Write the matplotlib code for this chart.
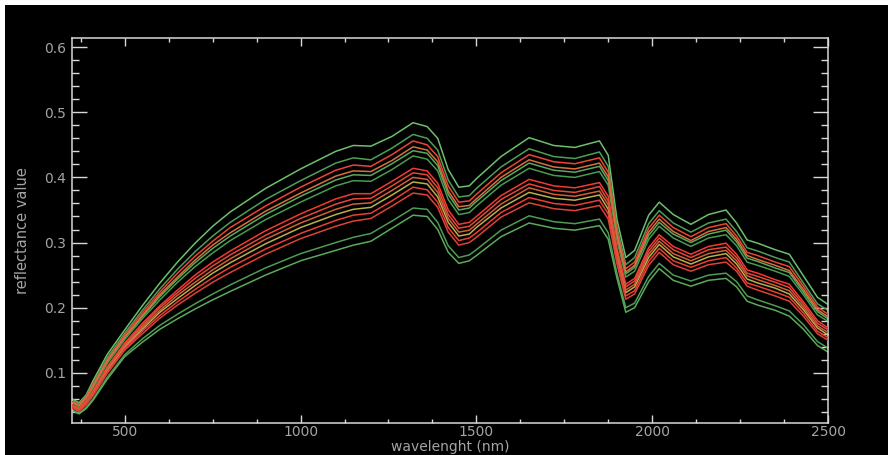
import matplotlib
matplotlib.use("Agg")
import matplotlib.pyplot as plt
from matplotlib.patches import Rectangle
from matplotlib.ticker import MultipleLocator, FormatStrFormatter

# wavelength grid (nm) shared by all spectra
wavelength = [350, 370, 390, 410, 450, 500, 550, 600, 650, 700, 750, 800, 900, 1000,
              1100, 1150, 1200, 1260, 1320, 1360, 1390, 1420, 1450, 1480,
              1500, 1570, 1650, 1720, 1780, 1850, 1875, 1900, 1925, 1950,
              1990, 2020, 2060, 2110, 2160, 2210, 2240, 2270, 2300, 2350,
              2390, 2430, 2470, 2500]

# reflectance spectra, top to bottom
s01 = [.060, .054, .066, .088, .128, .166, .203, .238, .270, .299, .325, .347, .383, .413, .440, .449, .448, .463, .484, .478, .460, .412, .385, .387, .398, .432, .461, .449, .446, .456, .434, .335, .277, .288, .342, .362, .343, .328, .343, .350, .330, .304, .299, .289, .282, .249, .216, .205]
s02 = [.058, .052, .065, .084, .123, .161, .196, .229, .259, .286, .310, .331, .366, .395, .422, .430, .427, .445, .466, .460, .442, .396, .370, .372, .383, .416, .444, .432, .429, .439, .417, .323, .266, .277, .329, .349, .330, .316, .330, .336, .317, .292, .287, .277, .270, .238, .206, .196]
s03 = [.056, .051, .063, .082, .120, .158, .192, .224, .253, .279, .302, .323, .356, .385, .411, .419, .417, .435, .456, .450, .432, .387, .362, .364, .374, .407, .435, .424, .421, .430, .408, .317, .260, .270, .322, .342, .323, .309, .323, .329, .310, .285, .280, .270, .263, .233, .201, .190]
s04 = [.055, .050, .062, .080, .118, .155, .188, .220, .247, .273, .296, .315, .348, .376, .402, .410, .409, .426, .447, .442, .424, .379, .355, .357, .367, .400, .427, .416, .413, .422, .401, .312, .255, .265, .316, .336, .317, .303, .317, .323, .305, .280, .274, .265, .257, .228, .197, .186]
s05 = [.055, .049, .061, .079, .117, .154, .186, .217, .244, .269, .291, .310, .343, .371, .396, .404, .403, .421, .441, .437, .418, .374, .350, .353, .363, .395, .422, .411, .408, .417, .395, .308, .252, .262, .311, .331, .313, .300, .313, .319, .301, .276, .271, .261, .254, .224, .194, .183]
s06 = [.054, .048, .060, .077, .114, .151, .183, .212, .239, .263, .284, .303, .335, .362, .387, .395, .394, .412, .433, .428, .410, .366, .343, .346, .356, .388, .414, .403, .400, .409, .388, .303, .247, .256, .305, .325, .307, .294, .307, .312, .295, .270, .265, .256, .248, .220, .189, .179]
s07 = [.051, .046, .057, .073, .109, .146, .176, .203, .227, .250, .270, .287, .318, .344, .367, .375, .375, .394, .414, .410, .391, .350, .328, .331, .340, .372, .397, .387, .384, .392, .371, .291, .236, .245, .292, .312, .294, .282, .294, .299, .282, .258, .253, .243, .236, .209, .180, .169]
s08 = [.050, .045, .056, .072, .108, .144, .173, .200, .223, .245, .264, .281, .311, .337, .359, .367, .368, .387, .407, .404, .384, .343, .322, .325, .334, .366, .390, .380, .377, .386, .364, .286, .232, .241, .287, .307, .289, .277, .289, .293, .277, .253, .248, .239, .231, .205, .176, .166]
s09 = [.049, .044, .054, .070, .106, .142, .170, .196, .219, .239, .258, .275, .305, .330, .351, .359, .361, .380, .400, .397, .377, .337, .316, .319, .328, .359, .384, .374, .371, .379, .358, .282, .227, .236, .282, .302, .283, .272, .283, .288, .272, .249, .243, .234, .226, .201, .172, .162]
s10 = [.049, .043, .053, .069, .104, .140, .167, .193, .214, .234, .253, .269, .298, .323, .343, .351, .354, .373, .393, .390, .370, .331, .310, .313, .323, .353, .377, .368, .365, .373, .351, .277, .223, .232, .277, .297, .278, .267, .278, .283, .267, .244, .238, .230, .221, .197, .169, .158]
s11 = [.047, .042, .052, .067, .101, .137, .164, .188, .209, .228, .246, .262, .290, .314, .334, .342, .345, .364, .385, .381, .362, .323, .303, .307, .315, .346, .369, .360, .357, .365, .344, .272, .218, .226, .271, .291, .272, .262, .272, .277, .261, .238, .233, .224, .216, .192, .164, .154]
s12 = [.046, .041, .051, .065, .099, .135, .160, .184, .204, .222, .239, .254, .282, .306, .325, .333, .337, .356, .376, .373, .354, .316, .296, .300, .308, .339, .361, .352, .349, .357, .336, .267, .213, .221, .265, .285, .266, .256, .266, .270, .256, .233, .227, .218, .210, .187, .160, .150]
s13 = [.043, .038, .047, .060, .093, .128, .152, .173, .190, .206, .221, .235, .261, .283, .300, .308, .314, .333, .353, .351, .331, .295, .277, .281, .289, .319, .341, .332, .329, .336, .315, .252, .200, .207, .248, .268, .250, .241, .250, .253, .240, .218, .212, .203, .195, .174, .148, .138]
s14 = [.042, .037, .045, .058, .090, .125, .147, .167, .183, .198, .212, .225, .250, .272, .288, .296, .302, .322, .342, .340, .320, .285, .268, .272, .280, .309, .330, .322, .319, .326, .305, .245, .193, .200, .240, .260, .242, .233, .242, .245, .232, .210, .204, .196, .187, .167, .142, .132]

spectra = [s01, s02, s03, s04, s05, s06, s07, s08, s09, s10, s11, s12, s13, s14]
colors = ["#6cbf6c", "#4f9e58", "#ec4436", "#d9703a", "#5aa860", "#4a9a50",
          "#f23a32", "#e5483a", "#d0603a", "#b8b048", "#ea3e36", "#de4236",
          "#4f9a55", "#5aaa5a"]

fg = "#a4a4a4"
spine_col = "#d8d8d8"

# black canvas with a thin white strip on the top and left edges
fig = plt.figure(figsize=(8.88, 4.55), dpi=100, facecolor="black")
fig.patches.append(Rectangle((0, 0), 5 / 888, 1, transform=fig.transFigure,
                             facecolor="white", edgecolor="none", zorder=-5))
fig.patches.append(Rectangle((0, 450 / 455), 1, 5 / 455, transform=fig.transFigure,
                             facecolor="white", edgecolor="none", zorder=-5))
ax = fig.add_axes([72 / 888, 1 - 423 / 455, 756 / 888, 385 / 455])
ax.set_facecolor("black")

for s, c in zip(spectra, colors):
    z = 3 if c.startswith("#e") or c.startswith("#d") or c.startswith("#f") else 2
    ax.plot(wavelength, s, color=c, lw=1.1, zorder=z)

ax.set_xlim(350, 2500)
ax.set_ylim(0.023, 0.614)

ax.xaxis.set_major_locator(MultipleLocator(500))
ax.xaxis.set_minor_locator(MultipleLocator(125))
ax.yaxis.set_major_locator(MultipleLocator(0.1))
ax.yaxis.set_minor_locator(MultipleLocator(0.02))
ax.yaxis.set_major_formatter(FormatStrFormatter("%.1f"))

ax.tick_params(axis="both", which="both", direction="in", colors=spine_col,
               labelcolor=fg, labelsize=10, width=1.0,
               top=True, right=True)
ax.tick_params(axis="x", which="major", length=6, pad=1.5)
ax.tick_params(axis="x", which="minor", length=3)
ax.tick_params(axis="y", which="major", length=11, pad=4)
ax.tick_params(axis="y", which="minor", length=5)

for sp in ax.spines.values():
    sp.set_color(spine_col)
    sp.set_linewidth(1.1)

ax.set_xlabel("wavelenght (nm)", color=fg, fontsize=10)
ax.set_ylabel("reflectance value", color=fg, fontsize=10.5)
ax.xaxis.set_label_coords(0.5, -0.045)
ax.yaxis.set_label_coords(-0.055, 0.5)

fig.savefig("out.png", dpi=100, facecolor=fig.get_facecolor())
